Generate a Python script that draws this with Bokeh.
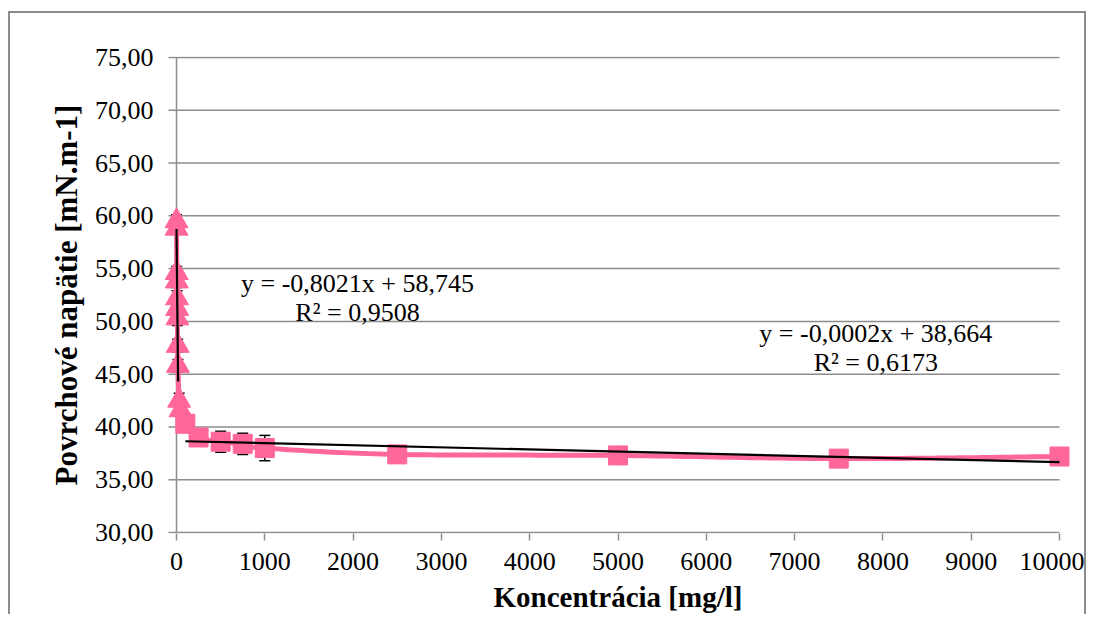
import numpy as np
from bokeh.plotting import figure
from bokeh.models import (Range1d, FixedTicker, CustomJSTickFormatter, ColumnDataSource,
                          Whisker, TeeHead, Label)
from bokeh.embed import file_html
from bokeh.resources import INLINE

# Surface tension vs. concentration
conc_low = [0, 1, 3, 4, 6, 8, 10, 13, 16, 30, 45]
tension_low = [59.5, 58.8, 54.6, 53.8, 52.2, 51.2, 50.3, 47.7, 45.8, 42.5, 41.6]
err_low = [0.6, 0.5, 0.6, 0.6, 0.7, 0.6, 0.7, 0.6, 0.6, 0.7, 0.6]

conc_high = [100, 250, 500, 750, 1000, 2500, 5000, 7500, 10000]
tension_high = [40.3, 39.0, 38.6, 38.4, 38.0, 37.4, 37.3, 37.0, 37.2]
err_high = [0.4, 0.3, 1.0, 1.0, 1.2, 0.2, 0.2, 0.2, 0.2]

# Linear trendlines (slope, intercept, R², x-span)
fit_low = dict(slope=-0.8021, icpt=58.745, r2=0.9508, x0=0, x1=18)
fit_high = dict(slope=-0.0002, icpt=38.664, r2=0.6173, x0=100, x1=10000)

x_ticks = [0, 1000, 2000, 3000, 4000, 5000, 6000, 7000, 8000, 9000, 10000]
y_ticks = [30, 35, 40, 45, 50, 55, 60, 65, 70, 75]
X_MIN, X_MAX = 0, 10000
Y_MIN, Y_MAX = 30, 75

PINK = "#FF6699"
GRID = "#8c8c8c"
FONT = "Liberation Serif"

# geometry: axis span in pixels plus side padding so edge markers are not clipped
SPAN_X, SPAN_Y = 883, 475
PAD_X, PAD_Y = 14, 1
kx = SPAN_X / (X_MAX - X_MIN)
ky = SPAN_Y / (Y_MAX - Y_MIN)

W, H = 1078, 603
BL, BT = 152, 43
BR = W - BL - SPAN_X - 2 * PAD_X
BB = H - BT - SPAN_Y - 2 * PAD_Y

p = figure(width=W, height=H,
           x_range=Range1d(X_MIN - PAD_X / kx, X_MAX + PAD_X / kx),
           y_range=Range1d(Y_MIN - PAD_Y / ky, Y_MAX + PAD_Y / ky),
           output_backend="svg", toolbar_location=None,
           min_border_left=BL, min_border_right=BR, min_border_top=BT, min_border_bottom=BB)
p.styles = {"margin-left": "8px", "margin-top": "11px",
            "border-top": f"2px solid {GRID}", "border-left": f"2px solid {GRID}",
            "border-right": f"2px solid {GRID}"}
p.outline_line_color = None
p.background_fill_color = "white"
p.border_fill_color = "white"
p.grid.visible = False

for ax in (p.xaxis[0], p.yaxis[0]):
    ax.axis_line_color = None
    ax.major_tick_line_color = GRID
    ax.major_tick_line_width = 1.5
    ax.major_tick_in = 0
    ax.minor_tick_line_color = None
    ax.major_label_text_font = FONT
    ax.major_label_text_font_size = "26px"
    ax.major_label_text_color = "black"
    ax.axis_label_text_font = FONT
    ax.axis_label_text_font_style = "bold"
    ax.axis_label_text_color = "black"

p.xaxis.ticker = FixedTicker(ticks=x_ticks)
p.yaxis.ticker = FixedTicker(ticks=y_ticks)
p.yaxis.formatter = CustomJSTickFormatter(code="return tick.toFixed(2).replace('.', ',');")
p.xaxis.major_tick_out = 7
p.yaxis.major_tick_out = 0
p.yaxis.major_tick_line_color = None
p.xaxis.major_label_standoff = 12
p.yaxis.major_label_standoff = 9
p.xaxis.axis_label = "Koncentrácia [mg/l]"
p.yaxis.axis_label = "Povrchové napätie [mN.m-1]"
p.xaxis.axis_label_text_font_size = "29px"
p.yaxis.axis_label_text_font_size = "31px"
p.xaxis.axis_label_standoff = 8
p.yaxis.axis_label_standoff = 8

# horizontal gridlines, y axis line and its outward tick marks
p.segment(x0=X_MIN, x1=X_MAX, y0=y_ticks, y1=y_ticks, line_color=GRID, line_width=1.5)
p.segment(x0=X_MIN, x1=X_MIN, y0=Y_MIN, y1=Y_MAX, line_color=GRID, line_width=1.5)
p.segment(x0=X_MIN - 8 / kx, x1=X_MIN, y0=y_ticks, y1=y_ticks, line_color=GRID, line_width=1.5)


def smooth_path(xs, ys, steps=24):
    P = np.column_stack([np.asarray(xs, float) * kx, np.asarray(ys, float) * ky])
    n = len(P)
    out = [P[0]]
    t = np.linspace(0, 1, steps)[1:, None]
    for i in range(n - 1):
        p0 = P[i - 1] if i > 0 else P[i]
        p1, p2 = P[i], P[i + 1]
        p3 = P[i + 2] if i + 2 < n else P[i + 1]
        c1 = p1 + (p2 - p0) / 6.0
        c2 = p2 - (p3 - p1) / 6.0
        seg = (1 - t) ** 3 * p1 + 3 * (1 - t) ** 2 * t * c1 + 3 * (1 - t) * t ** 2 * c2 + t ** 3 * p2
        out.extend(seg)
    out = np.array(out)
    return out[:, 0] / kx, out[:, 1] / ky


src_low = ColumnDataSource(dict(x=conc_low, y=tension_low,
                                lo=[v - e for v, e in zip(tension_low, err_low)],
                                hi=[v + e for v, e in zip(tension_low, err_low)]))
src_high = ColumnDataSource(dict(x=conc_high, y=tension_high,
                                 lo=[v - e for v, e in zip(tension_high, err_high)],
                                 hi=[v + e for v, e in zip(tension_high, err_high)]))

for src in (src_low, src_high):
    p.add_layout(Whisker(source=src, base="x", lower="lo", upper="hi", level="underlay",
                         line_color="black", line_width=1.5,
                         upper_head=TeeHead(size=11, line_color="black", line_width=1.5),
                         lower_head=TeeHead(size=11, line_color="black", line_width=1.5)))

cx, cy = smooth_path(conc_low + conc_high, tension_low + tension_high)
p.line(cx, cy, line_color=PINK, line_width=5)

p.scatter("x", "y", source=src_low, marker="triangle", size=23,
          fill_color=PINK, line_color=PINK)
p.scatter("x", "y", source=src_high, marker="square", size=19,
          fill_color=PINK, line_color=PINK)

for fit in (fit_low, fit_high):
    xs = [fit["x0"], fit["x1"]]
    p.line(xs, [fit["slope"] * v + fit["icpt"] for v in xs], line_color="black", line_width=2.2)


def eq_text(fit):
    s = f"y = {fit['slope']:.4f}x + {fit['icpt']:.3f}".replace(".", ",")
    r = f"R² = {fit['r2']:.4f}".replace(".", ",")
    return s, r


for fit, (lx, ly1, ly2) in ((fit_low, (2050, 53.6, 50.8)), (fit_high, (7920, 48.85, 46.1))):
    s, r = eq_text(fit)
    for txt, yy in ((s, ly1), (r, ly2)):
        p.add_layout(Label(x=lx, y=yy, text=txt, text_align="center", text_baseline="middle",
                           text_font=FONT, text_font_size="26px", text_color="black"))

open("out.html", "w").write(file_html(p, INLINE))
